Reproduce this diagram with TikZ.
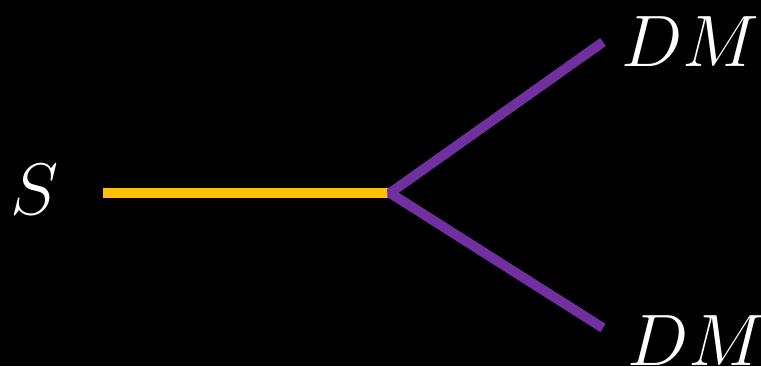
\documentclass[tikz,border=0pt]{standalone}
\usepackage{tikz}
\usetikzlibrary{positioning, calc}

\definecolor{scalar}{HTML}{FFC000}
\definecolor{dark}{HTML}{7030A0}

\begin{document}
\begin{tikzpicture}[
  x=0.01cm, y=-0.01cm,
  line/.style  = {line width=2.8pt},
  label/.style = {text=white, font=\fontsize{19.5}{23}\selectfont, inner sep=0pt},
]
  \fill[black] (0,0) rectangle (761,366);
  \useasboundingbox (0,0) rectangle (761,366);

  \coordinate (sin)  at (103,193);
  \coordinate (vtx)  at (390,193);
  \coordinate (dmup) at (603,42);
  \coordinate (dmdn) at (603,328);

  \node[label] (S)   at (35,190)  {$S$};
  \node[label] (DM1) at (690,42)  {$DM$};
  \node[label] (DM2) at (696,341) {$DM$};

  \draw[line, scalar] (sin) -- (vtx);
  \draw[line, dark, line join=bevel] (dmup) -- (vtx) -- (dmdn);
\end{tikzpicture}
\end{document}
